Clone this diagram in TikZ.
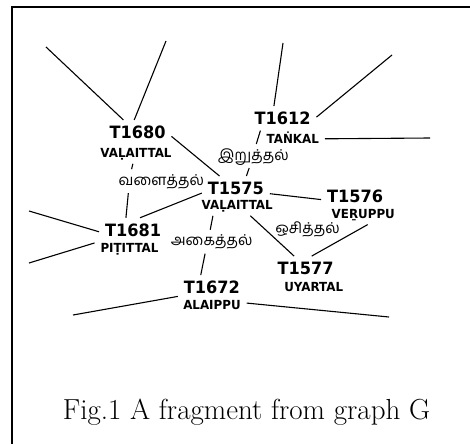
\documentclass[tikz,border=0pt]{standalone}
\usepackage{fontspec}
\newfontfamily\idfont[FakeStretch=0.95]{DejaVu Sans}
\newfontfamily\tamilfont[Script=Tamil]{Hind Madurai}
\begin{document}
\begin{tikzpicture}[x=1pt,y=-1pt,
    termid/.style={font=\idfont\bfseries\fontsize{17}{17}\selectfont, inner sep=2pt, outer sep=4pt, text height=12.5pt, text depth=0pt},
    termname/.style={font=\idfont\bfseries\fontsize{12.5}{13}\selectfont, inner sep=2pt, outer sep=4pt, text height=8.6pt, text depth=0pt},
    tamil/.style={font=\tamilfont\fontsize{15}{16}\selectfont, inner sep=2pt, outer sep=4pt, text height=10pt, text depth=2pt},
    link/.style={line width=1.1pt}]
    \useasboundingbox (0,0) rectangle (470,444);
    % frame
    \draw[line width=2.2pt] (12,444) -- (12,7) -- (470,7);
    % terms
    \node[termid] (T1680) at (137.5,132.2) {T1680};
    \node[termname] (T1680Name) at (136,153.5) {VAḶAITTAL};
    \node[termid] (T1612) at (282.5,118.3) {T1612};
    \node[termname] (T1612Name) at (292.8,138.8) {TAṄKAL};
    \node[termid] (T1575) at (235.8,188.3) {T1575};
    \node[termname] (T1575Name) at (237.2,205.5) {VAḶAITTAL};
    \node[termid] (T1576) at (355,196) {T1576};
    \node[termname] (T1576Name) at (363.3,214.3) {VEṞUPPU};
    \node[termid] (T1681) at (133,230) {T1681};
    \node[termname] (T1681Name) at (129.5,248.5) {PIṬITTAL};
    \node[termid] (T1672) at (211.8,287.3) {T1672};
    \node[termname] (T1672Name) at (212,305.5) {ALAIPPU};
    \node[termid] (T1577) at (305.5,268.3) {T1577};
    \node[termname] (T1577Name) at (313.7,287.3) {UYARTAL};
    % tamil labels
    \node[tamil] (Iruttal) at (253.3,156) {இறுத்தல்};
    \node[tamil] (Valaittal) at (161.3,181.2) {வளைத்தல்};
    \node[tamil] (Ocittal) at (307.5,229) {ஒசித்தல்};
    \node[tamil] (Akaittal) at (211.7,241.7) {அகைத்தல்};
    % loose ends
    \coordinate (FreeA) at (46,47);
    \coordinate (FreeB) at (166,41);
    \coordinate (FreeC) at (283,43);
    \coordinate (FreeD) at (392,55);
    \coordinate (FreeE) at (430,138);
    \coordinate (FreeF) at (29,211);
    \coordinate (FreeG) at (29,263);
    \coordinate (FreeH) at (73,315);
    \coordinate (FreeI) at (389,317);
    % links
    \draw[link] (FreeA) -- (T1680.139);
    \draw[link] (FreeB) -- (T1680.105);
    \draw[link] (FreeC) -- (T1612.125);
    \draw[link] (FreeD) -- (T1612.2);
    \draw[link] (T1612Name.east) -- (FreeE);
    \draw[link] (T1680.-7) -- (T1575.143);
    \draw[link] (T1612.209) -- (Iruttal.76);
    \draw[link] (Iruttal.251) -- (T1575.49);
    \draw[link] (T1680Name.253) -- (Valaittal.158);
    \draw[link] (Valaittal.200) -- (T1681.120);
    \draw[link] (T1575.188) -- (T1681.60);
    \draw[link] (T1575.-9) -- (T1576.186);
    \draw[link] (T1575Name.-38) -- (T1577.133);
    \draw[link] (T1576Name.-67) -- (T1577.63);
    \draw[link] (T1575Name.203) -- (Akaittal.97);
    \draw[link] (Akaittal.241) -- (T1672.132);
    \draw[link] (FreeF) -- (T1681.183);
    \draw[link] (FreeG) -- (T1681Name.171);
    \draw[link] (FreeH) -- (T1672.195);
    \draw[link] (T1672Name.4) -- (FreeI);
    % caption
    \node[anchor=base, font=\fontsize{29}{33}\selectfont] (Caption) at (246.5,419.3) {Fig.1 A fragment from graph G};
\end{tikzpicture}
\end{document}
